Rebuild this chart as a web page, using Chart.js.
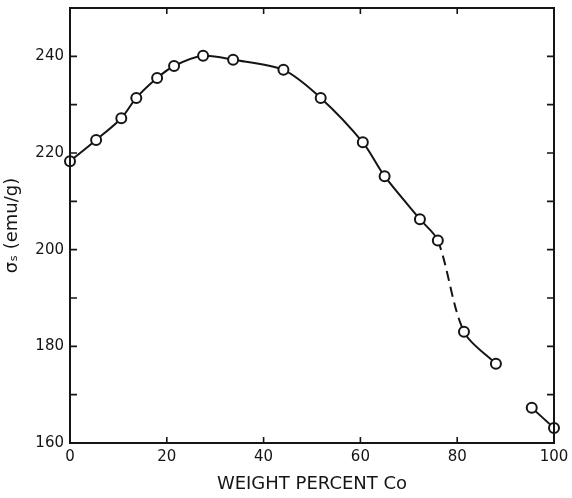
<!DOCTYPE html>
<html>
<head>
<meta charset="utf-8">
<script src="https://cdn.jsdelivr.net/npm/chart.js@4/dist/chart.umd.min.js"></script>
<style>
  html, body { margin: 0; padding: 0; background: #fff; }
  #wrap { width: 572px; height: 498px; }
</style>
</head>
<body>
<div id="wrap"><canvas id="cobaltChart"></canvas></div>
<script>
/* ---- data: saturation magnetization vs. Co content ---- */
const wtCo   = [0, 5.4, 10.6, 13.7, 18.0, 21.5, 27.5, 33.7, 44.1, 51.8, 60.5, 65.0, 72.3, 76.0, 81.4, 88.0, 92, 95.4, 100];
const sigmaS = [218.3, 222.7, 227.2, 231.4, 235.5, 238.0, 240.1, 239.3, 237.2, 231.4, 222.2, 215.2, 206.3, 201.9, 183.0, 176.4, null, 167.3, 163.1];
const dashedSegment = 13;   // segment 76 -> 81.4 is dashed

const xTickVals = [0, 20, 40, 60, 80, 100];
const yTickVals = [160, 180, 200, 220, 240];
const xInnerTicks = [20, 40, 60, 80];
const yInnerTicks = [170, 180, 190, 200, 210, 220, 230, 240];

const INK = "#151515";

// frame on all four sides + small ticks pointing into the plot
const frameTicks = {
    id: "frameTicks",
    afterDatasetsDraw(chart) {
        const { ctx, chartArea: a, scales } = chart;
        ctx.save();
        ctx.strokeStyle = INK;
        ctx.lineWidth = 2;
        ctx.strokeRect(a.left, a.top, a.right - a.left, a.bottom - a.top);
        ctx.lineWidth = 1.6;
        ctx.beginPath();
        xInnerTicks.forEach((v) => {
            const x = scales.x.getPixelForValue(v);
            ctx.moveTo(x, a.bottom); ctx.lineTo(x, a.bottom - 6);
            ctx.moveTo(x, a.top);    ctx.lineTo(x, a.top + 6);
        });
        yInnerTicks.forEach((v) => {
            const y = scales.y.getPixelForValue(v);
            ctx.moveTo(a.left, y);  ctx.lineTo(a.left + 7, y);
            ctx.moveTo(a.right, y); ctx.lineTo(a.right - 7, y);
        });
        ctx.stroke();
        ctx.restore();
    }
};

new Chart(document.getElementById("cobaltChart"), {
    type: "line",
    data: {
        datasets: [{
            data: wtCo.map((x, i) => ({ x: x, y: sigmaS[i] })),
            borderColor: INK,
            borderWidth: 2,
            tension: 0.3,
            spanGaps: false,
            pointRadius: 5,
            pointBorderWidth: 2,
            pointBackgroundColor: "#fff",
            pointBorderColor: INK,
            clip: false,
            segment: {
                borderDash: (ctx) => ctx.p0DataIndex === dashedSegment ? [10, 6] : undefined
            }
        }]
    },
    options: {
        responsive: true,
        maintainAspectRatio: false,
        animation: false,
        events: [],
        layout: { padding: { top: 8, right: 18, left: 0, bottom: 0 } },
        plugins: { legend: { display: false }, tooltip: { enabled: false } },
        scales: {
            x: {
                type: "linear",
                min: 0,
                max: 100,
                afterBuildTicks: (s) => { s.ticks = xTickVals.map((v) => ({ value: v })); },
                afterFit: (s) => { s.height = 55; s.paddingLeft = 0; s.paddingRight = 0; },
                grid: { display: false, drawTicks: false },
                border: { display: false },
                ticks: { color: INK, padding: 5, font: { family: "DejaVu Sans", size: 15 } },
                title: {
                    display: true,
                    text: "WEIGHT PERCENT Co",
                    color: INK,
                    padding: { top: 0, bottom: 3 },
                    font: { family: "DejaVu Sans", size: 18 }
                }
            },
            y: {
                min: 160,
                max: 250,
                afterBuildTicks: (s) => { s.ticks = yTickVals.map((v) => ({ value: v })); },
                afterFit: (s) => { s.width = 70; s.paddingTop = 0; s.paddingBottom = 0; },
                grid: { display: false, drawTicks: false },
                border: { display: false },
                ticks: { color: INK, padding: 6, font: { family: "DejaVu Sans", size: 15 } },
                title: {
                    display: true,
                    text: "σₛ (emu/g)",
                    color: INK,
                    padding: { top: 2, bottom: 0 },
                    font: { family: "DejaVu Sans", size: 18 }
                }
            }
        }
    },
    plugins: [frameTicks]
});
</script>
</body>
</html>
